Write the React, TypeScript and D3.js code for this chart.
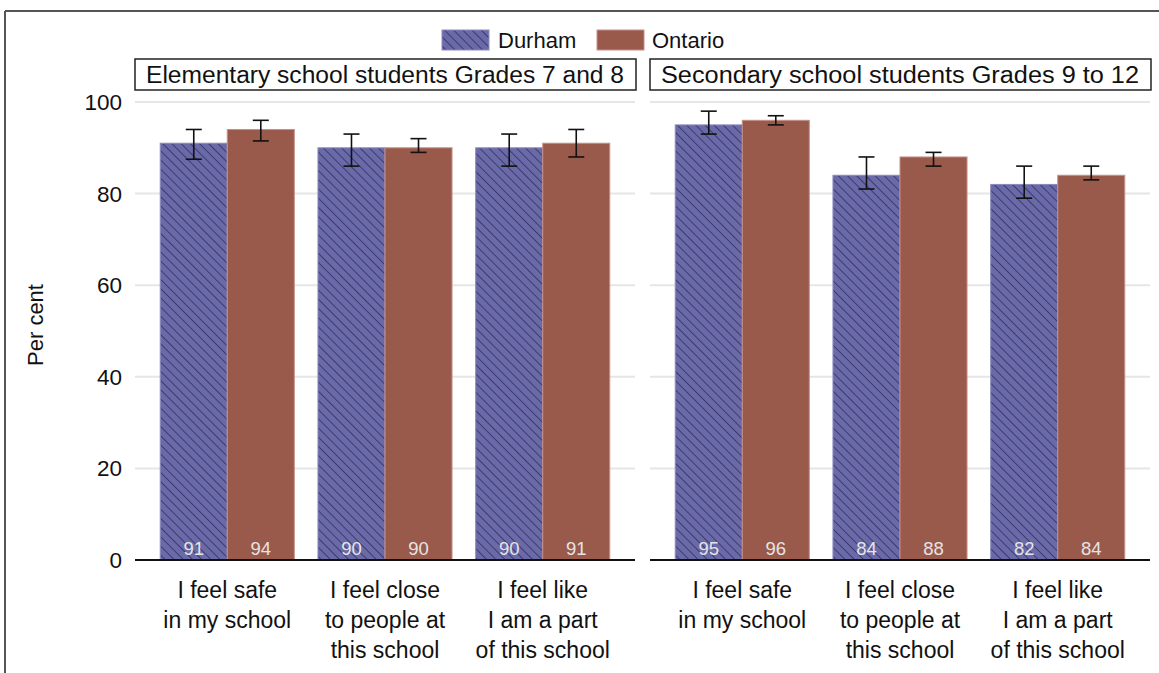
import React from "react";
import * as d3 from "d3";

const panels = ["Elementary school students Grades 7 and 8", "Secondary school students Grades 9 to 12"];
const categories = ["I feel safe\nin my school", "I feel close\nto people at\nthis school", "I feel like\nI am a part\nof this school"];
const seriesNames = ["Durham", "Ontario"];
// values[panel][category]
const durham = [[91, 90, 90], [95, 84, 82]];
const ontario = [[94, 90, 91], [96, 88, 84]];
const durhamLow = [[87.5, 86, 86], [93, 81, 79]];
const durhamHigh = [[94, 93, 93], [98, 88, 86]];
const ontarioLow = [[91.5, 89, 88], [95, 86, 83]];
const ontarioHigh = [[96, 92, 94], [97, 89, 86]];
const yTicks = [0, 20, 40, 60, 80, 100];

const W = 1159;
const H = 673;
const FONT = "'Liberation Sans', Arial, sans-serif";
const DURHAM_FILL = "#6b6aa8";
const ONTARIO_FILL = "#9a5a4b";

export default function App() {
  const y = d3.scaleLinear().domain([0, 100]).range([560, 102]);
  const panelRanges: [number, number][] = [[135, 635], [650, 1150]];

  return (
    <svg width={W} height={H} style={{ position: "absolute", left: 0, top: 0, background: "#fff" }} fontFamily={FONT}>
      <defs>
        <pattern id="hatch" patternUnits="userSpaceOnUse" width={6.5} height={6.5} patternTransform="rotate(-45)">
          <rect width={6.5} height={6.5} fill={DURHAM_FILL} />
          <line x1={0.5} y1={0} x2={0.5} y2={6.5} stroke="#35356a" strokeWidth={0.9} />
        </pattern>
      </defs>
      <rect x={0} y={0} width={W} height={H} fill="#fff" />
      {/* outer frame */}
      <line x1={5} y1={11} x2={W} y2={11} stroke="#555" strokeWidth={2} />
      <line x1={5} y1={11} x2={5} y2={H} stroke="#555" strokeWidth={2} />

      {/* legend */}
      <rect x={442} y={30} width={47} height={20} fill="url(#hatch)" stroke="#8c8cc0" strokeWidth={1} />
      <text x={498} y={48} fontSize={22} fill="#111">{seriesNames[0]}</text>
      <rect x={597} y={30} width={47} height={20} fill={ONTARIO_FILL} stroke="#c09090" strokeWidth={1} />
      <text x={652} y={48} fontSize={22} fill="#111">{seriesNames[1]}</text>

      {/* y axis */}
      {yTicks.map((t) => (
        <text key={t} x={122} y={y(t) + 8} fontSize={22.5} textAnchor="end" fill="#111">{t}</text>
      ))}
      <text transform={`translate(43,325) rotate(-90)`} fontSize={22} textAnchor="middle" fill="#111">Per cent</text>

      {panels.map((p, pi) => {
        const [x0, x1] = panelRanges[pi];
        const x = d3.scaleBand<string>().domain(categories).range([x0, x1]).paddingInner(0.15).paddingOuter(0.16);
        const xs = d3.scaleBand<string>().domain(seriesNames).range([0, x.bandwidth()]);
        return (
          <g key={p}>
            {/* header */}
            <rect x={x0} y={59} width={x1 - x0 + 1} height={31} fill="#fff" stroke="#222" strokeWidth={1.5} />
            <text x={(x0 + x1) / 2} y={83} fontSize={23} textAnchor="middle" fill="#111" textLength={478} lengthAdjust="spacingAndGlyphs">{p}</text>
            {/* gridlines */}
            {yTicks.filter((t) => t > 0).map((t) => (
              <line key={t} x1={x0} x2={x1} y1={y(t)} y2={y(t)} stroke="#e6e6e6" strokeWidth={2} />
            ))}
            {categories.map((c, ci) => {
              const gx = x(c)!;
              const vals = [durham[pi][ci], ontario[pi][ci]];
              const lows = [durhamLow[pi][ci], ontarioLow[pi][ci]];
              const highs = [durhamHigh[pi][ci], ontarioHigh[pi][ci]];
              return (
                <g key={c}>
                  {seriesNames.map((s, si) => {
                    const bx = gx + xs(s)!;
                    const bw = xs.bandwidth();
                    const cx = bx + bw / 2;
                    return (
                      <g key={s}>
                        <rect x={bx} y={y(vals[si])} width={bw} height={y(0) - y(vals[si])}
                          fill={si === 0 ? "url(#hatch)" : ONTARIO_FILL}
                          stroke={si === 0 ? "#8a8abd" : "#c4908a"} strokeWidth={1} />
                        <text x={cx} y={555} fontSize={18.5} textAnchor="middle" fill="#e4e4e4">{vals[si]}</text>
                      </g>
                    );
                  })}
                  {seriesNames.map((s, si) => {
                    const cx = gx + xs(s)! + xs.bandwidth() / 2;
                    return (
                      <g key={s + "e"} stroke="#111" strokeWidth={1.6}>
                        <line x1={cx} x2={cx} y1={y(highs[si])} y2={y(lows[si])} />
                        <line x1={cx - 8} x2={cx + 8} y1={y(highs[si])} y2={y(highs[si])} />
                        <line x1={cx - 8} x2={cx + 8} y1={y(lows[si])} y2={y(lows[si])} />
                      </g>
                    );
                  })}
                  {c.split("\n").map((ln, li) => (
                    <text key={li} x={gx + x.bandwidth() / 2} y={598 + li * 30} fontSize={23} textAnchor="middle" fill="#111">{ln}</text>
                  ))}
                </g>
              );
            })}
            <line x1={x0} x2={x1} y1={y(0)} y2={y(0)} stroke="#111" strokeWidth={2} />
          </g>
        );
      })}
    </svg>
  );
}
